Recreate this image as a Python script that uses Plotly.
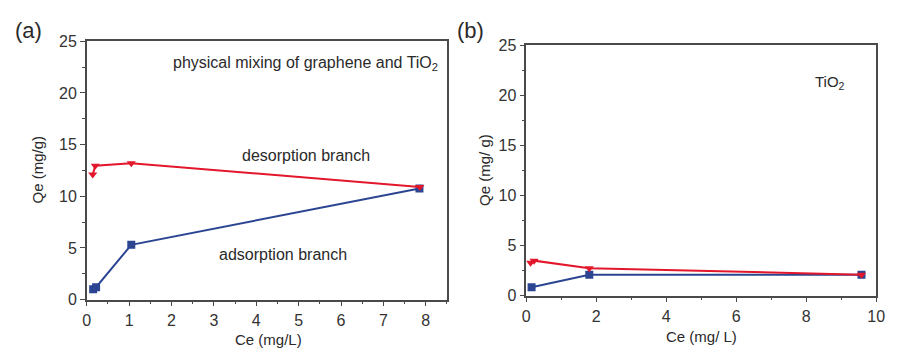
import plotly.graph_objects as go

# Panel (a): physical mixing of graphene and TiO2
a_ads_ce = [0.15, 0.22, 1.05, 7.85]
a_ads_qe = [1.0, 1.2, 5.3, 10.75]
a_des_ce = [0.14, 0.2, 1.05, 7.86]
a_des_qe = [12.1, 12.95, 13.2, 10.9]

# Panel (b): TiO2
b_ads_ce = [0.15, 1.8, 9.58]
b_ads_qe = [0.85, 2.1, 2.1]
b_des_ce = [0.12, 0.22, 1.8, 9.58]
b_des_qe = [3.3, 3.5, 2.75, 2.1]

RED = "#e3172b"
BLUE = "#2b4593"
AXIS = "#4a4a4a"
FONT = "Liberation Sans, Arial, sans-serif"

fig = go.Figure()

def add_series(x, y, color, symbol, xa, ya):
    fig.add_trace(go.Scatter(
        x=x, y=y, mode="lines+markers", xaxis=xa, yaxis=ya,
        line=dict(color=color, width=2),
        marker=dict(color=color, symbol=symbol, size=8),
        showlegend=False, hoverinfo="x+y"))

add_series(a_ads_ce, a_ads_qe, BLUE, "square", "x", "y")
add_series(a_des_ce, a_des_qe, RED, "triangle-down", "x", "y")
add_series(b_ads_ce, b_ads_qe, BLUE, "square", "x2", "y2")
add_series(b_des_ce, b_des_qe, RED, "triangle-down", "x2", "y2")

W, H = 898, 360

def axis_common():
    return dict(
        showline=True, linecolor=AXIS, linewidth=1.5, mirror=True,
        ticks="outside", ticklen=5, tickwidth=1.2, tickcolor=AXIS,
        showgrid=False, zeroline=False,
        tickfont=dict(family=FONT, size=16, color="#333333"),
    )

fig.update_layout(
    width=W, height=H,
    margin=dict(l=0, r=0, t=0, b=0),
    paper_bgcolor="white", plot_bgcolor="white",
    font=dict(family=FONT, color="#333333"),
    xaxis=dict(**axis_common(), domain=[84 / W, 449.5 / W], range=[0, 8.5],
               dtick=1, tick0=0, anchor="y",
               minor=dict(dtick=0.5, ticks="outside", ticklen=3, tickcolor=AXIS)),
    yaxis=dict(**axis_common(), domain=[54 / H, 325 / H], range=[0, 25],
               dtick=5, tick0=0, anchor="x",
               minor=dict(dtick=2.5, ticks="outside", ticklen=3, tickcolor=AXIS)),
    xaxis2=dict(**axis_common(), domain=[530 / W, 885 / W], range=[0, 10],
                dtick=2, tick0=0, anchor="y2",
                minor=dict(dtick=1, ticks="outside", ticklen=3, tickcolor=AXIS)),
    yaxis2=dict(**axis_common(), domain=[58 / H, 321 / H], range=[0, 25],
                dtick=5, tick0=0, anchor="x2",
                minor=dict(dtick=2.5, ticks="outside", ticklen=3, tickcolor=AXIS)),
)

def label(text, x, y, size=14, angle=0, xanchor="center"):
    fig.add_annotation(text=text, x=x / W, y=1 - y / H, xref="paper", yref="paper",
                       showarrow=False, textangle=angle, xanchor=xanchor, yanchor="middle",
                       font=dict(family=FONT, size=size, color="#2a2a2a"))

label("(a)", 25, 24, size=22)
label("(b)", 473, 24, size=22)
label("physical mixing of graphene and TiO<sub>2</sub>", 306, 58, size=16)
label("desorption branch", 306, 155, size=16)
label("adsorption branch", 283, 259, size=16)
label("TiO<sub>2</sub>", 838, 78, size=15)
label("Qe (mg/g)", 34, 170, size=15, angle=-90)
label("Ce (mg/L)", 268, 348, size=15)
label("Qe (mg/ g)", 488, 170, size=15, angle=-90)
label("Ce (mg/ L)", 708, 345, size=15)

fig.write_html("out.html")
